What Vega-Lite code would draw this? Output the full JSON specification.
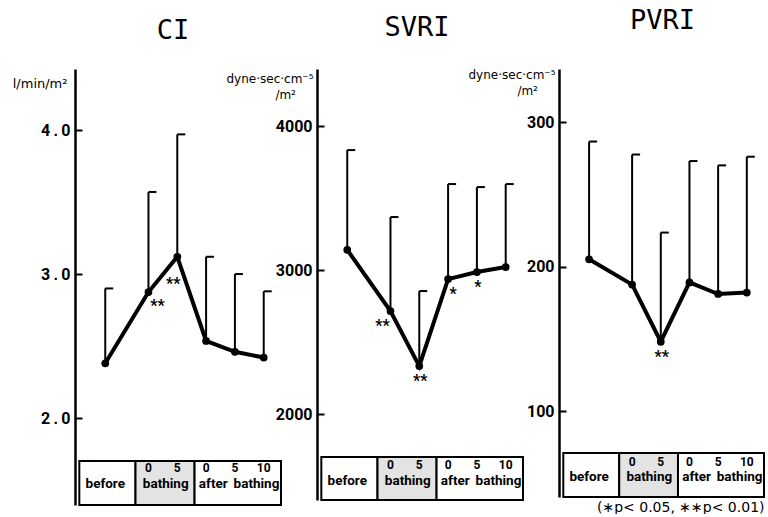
{
 "$schema": "https://vega.github.io/schema/vega-lite/v6.json",
 "background": "white",
 "padding": {"left": 12, "top": 7, "right": 0, "bottom": 0},
 "bounds": "flush",
 "spacing": 36,
 "config": {"view": {"stroke": null}, "axis": {"grid": false}},
 "datasets": {
  "cells": [{"cell": "before", "x0": -0.9, "x1": 1.05}, {"cell": "bathing", "x0": 1.05, "x1": 3.1}, {"cell": "after", "x0": 3.1, "x1": 6.1}],
  "tabnum": [{"x": 1.5, "t": "0"}, {"x": 2.5, "t": "5"}, {"x": 3.5, "t": "0"}, {"x": 4.5, "t": "5"}, {"x": 5.5, "t": "10"}],
  "tablab": [{"x": 0, "t": "before"}, {"x": 2.1, "t": "bathing"}, {"x": 3.75, "t": "after"}, {"x": 5.25, "t": "bathing"}],
  "ci": [
   {"step": "before", "x": 0, "mean": 2.38, "upper": 2.90, "sig": "", "place": ""},
   {"step": "bathing 0", "x": 1.5, "mean": 2.875, "upper": 3.57, "sig": "**", "place": "right"},
   {"step": "bathing 5", "x": 2.5, "mean": 3.12, "upper": 3.97, "sig": "**", "place": "low"},
   {"step": "after 0", "x": 3.5, "mean": 2.535, "upper": 3.12, "sig": "", "place": ""},
   {"step": "after 5", "x": 4.5, "mean": 2.46, "upper": 3.00, "sig": "", "place": ""},
   {"step": "after 10", "x": 5.5, "mean": 2.42, "upper": 2.88, "sig": "", "place": ""}
  ],
  "svri": [
   {"step": "before", "x": 0, "mean": 3140, "upper": 3833, "sig": "", "place": ""},
   {"step": "bathing 0", "x": 1.5, "mean": 2715, "upper": 3368, "sig": "**", "place": "left"},
   {"step": "bathing 5", "x": 2.5, "mean": 2333, "upper": 2854, "sig": "**", "place": "below"},
   {"step": "after 0", "x": 3.5, "mean": 2937, "upper": 3597, "sig": "*", "place": "right"},
   {"step": "after 5", "x": 4.5, "mean": 2986, "upper": 3576, "sig": "*", "place": "below"},
   {"step": "after 10", "x": 5.5, "mean": 3021, "upper": 3597, "sig": "", "place": ""}
  ],
  "pvri": [
   {"step": "before", "x": 0, "mean": 205, "upper": 286.5, "sig": "", "place": ""},
   {"step": "bathing 0", "x": 1.5, "mean": 187.5, "upper": 277.5, "sig": "", "place": ""},
   {"step": "bathing 5", "x": 2.5, "mean": 148, "upper": 223.5, "sig": "**", "place": "below"},
   {"step": "after 0", "x": 3.5, "mean": 189, "upper": 273, "sig": "", "place": ""},
   {"step": "after 5", "x": 4.5, "mean": 181, "upper": 270, "sig": "", "place": ""},
   {"step": "after 10", "x": 5.5, "mean": 182, "upper": 276, "sig": "", "place": ""}
  ]
 },
 "hconcat": [
  {
   "width": 206, "height": 436,
   "title": {"text": "CI", "font": "DejaVu Sans Mono", "fontSize": 27, "fontWeight": "normal", "color": "black", "frame": "group", "baseline": "alphabetic", "offset": 3, "dx": -5},
   "encoding": {"x": {"field": "x", "type": "quantitative", "scale": {"domain": [-1.05, 6.1], "nice": false, "zero": false}, "axis": null}},
   "layer": [
    {"data": {"name": "cells"}, "mark": {"type": "rect", "stroke": "black", "strokeWidth": 2},
     "encoding": {"x": {"field": "x0", "type": "quantitative"}, "x2": {"field": "x1"}, "y": {"datum": 1.701}, "y2": {"datum": 1.396},
      "fill": {"field": "cell", "type": "nominal", "scale": {"domain": ["before", "bathing", "after"], "range": ["#ffffff", "#e3e3e3", "#ffffff"]}, "legend": null}}},
    {"data": {"name": "tabnum"}, "mark": {"type": "text", "font": "Roboto", "fontWeight": "bold", "fontSize": 12, "baseline": "middle", "color": "black"},
     "encoding": {"x": {"field": "x", "type": "quantitative"}, "y": {"datum": 1.655}, "text": {"field": "t"}}},
    {"data": {"name": "tablab"}, "mark": {"type": "text", "font": "Roboto", "fontWeight": "bold", "fontSize": 13.5, "baseline": "middle", "color": "black"},
     "encoding": {"x": {"field": "x", "type": "quantitative"}, "y": {"datum": 1.542}, "text": {"field": "t"}}},
    {"data": {"name": "ci"}, "mark": {"type": "rule", "color": "black", "strokeWidth": 2},
     "encoding": {"y": {"field": "mean", "type": "quantitative", "scale": {"domain": [1.396, 4.424], "nice": false, "zero": false},
       "axis": {"values": [2, 3, 4], "format": ".1f", "labelExpr": "replace(datum.label, '.', '\u2009.\u2009')", "title": "l/min/m²", "zindex": 1, "grid": false,
        "domainColor": "black", "domainWidth": 2.5, "tickColor": "black", "tickWidth": 2, "tickSize": -7,
        "labelFont": "Roboto", "labelFontWeight": "bold", "labelFontSize": 16, "labelColor": "black", "labelPadding": 12,
        "titleAngle": 0, "titleAlign": "right", "titleBaseline": "alphabetic", "titleX": -8, "titleY": 18, "titleFont": "DejaVu Sans", "titleFontSize": 13, "titleFontWeight": "normal", "titleColor": "black"}},
      "y2": {"field": "upper"}}},
    {"data": {"name": "ci"}, "mark": {"type": "point", "shape": "M0,0H1", "size": 256, "filled": false, "stroke": "black", "strokeWidth": 2, "opacity": 1},
     "encoding": {"y": {"field": "upper", "type": "quantitative"}}},
    {"data": {"name": "ci"}, "mark": {"type": "line", "color": "black", "strokeWidth": 4},
     "encoding": {"y": {"field": "mean", "type": "quantitative"}}},
    {"data": {"name": "ci"}, "mark": {"type": "circle", "color": "black", "size": 60, "opacity": 1},
     "encoding": {"y": {"field": "mean", "type": "quantitative"}}},
    {"data": {"name": "ci"}, "transform": [{"filter": "datum.place === 'right'"}],
     "mark": {"type": "text", "font": "Roboto", "fontWeight": "bold", "fontSize": 16, "baseline": "alphabetic", "dx": 9, "dy": 19, "color": "black"},
     "encoding": {"y": {"field": "mean", "type": "quantitative"}, "text": {"field": "sig"}}},
    {"data": {"name": "ci"}, "transform": [{"filter": "datum.place === 'low'"}],
     "mark": {"type": "text", "font": "Roboto", "fontWeight": "bold", "fontSize": 16, "baseline": "alphabetic", "dx": -4, "dy": 32, "color": "black"},
     "encoding": {"y": {"field": "mean", "type": "quantitative"}, "text": {"field": "sig"}}}
   ]
  },
  {
   "width": 206, "height": 431,
   "title": {"text": "SVRI", "font": "DejaVu Sans Mono", "fontSize": 27, "fontWeight": "normal", "color": "black", "frame": "group", "baseline": "alphabetic", "offset": 6, "dx": -3},
   "encoding": {"x": {"field": "x", "type": "quantitative", "scale": {"domain": [-1.05, 6.1], "nice": false, "zero": false}, "axis": null}},
   "layer": [
    {"data": {"name": "cells"}, "mark": {"type": "rect", "stroke": "black", "strokeWidth": 2},
     "encoding": {"x": {"field": "x0", "type": "quantitative"}, "x2": {"field": "x1"}, "y": {"datum": 1701}, "y2": {"datum": 1403},
      "fill": {"field": "cell", "type": "nominal", "scale": {"domain": ["before", "bathing", "after"], "range": ["#ffffff", "#e3e3e3", "#ffffff"]}, "legend": null}}},
    {"data": {"name": "tabnum"}, "mark": {"type": "text", "font": "Roboto", "fontWeight": "bold", "fontSize": 12, "baseline": "middle", "color": "black"},
     "encoding": {"x": {"field": "x", "type": "quantitative"}, "y": {"datum": 1648}, "text": {"field": "t"}}},
    {"data": {"name": "tablab"}, "mark": {"type": "text", "font": "Roboto", "fontWeight": "bold", "fontSize": 13.5, "baseline": "middle", "color": "black"},
     "encoding": {"x": {"field": "x", "type": "quantitative"}, "y": {"datum": 1538}, "text": {"field": "t"}}},
    {"data": {"name": "svri"}, "mark": {"type": "rule", "color": "black", "strokeWidth": 2},
     "encoding": {"y": {"field": "mean", "type": "quantitative", "scale": {"domain": [1403, 4396], "nice": false, "zero": false},
       "axis": {"values": [2000, 3000, 4000], "format": "d", "title": ["dyne·sec·cm⁻⁵", "/m²\u2800\u2800"], "zindex": 1, "grid": false,
        "domainColor": "black", "domainWidth": 2.5, "tickColor": "black", "tickWidth": 2, "tickSize": -7,
        "labelFont": "Roboto", "labelFontWeight": "bold", "labelFontSize": 16, "labelColor": "black", "labelPadding": 12,
        "titleAngle": 0, "titleAlign": "right", "titleBaseline": "alphabetic", "titleX": -4, "titleY": 13, "titleLineHeight": 16, "titleFont": "DejaVu Sans", "titleFontSize": 12, "titleFontWeight": "normal", "titleColor": "black"}},
      "y2": {"field": "upper"}}},
    {"data": {"name": "svri"}, "mark": {"type": "point", "shape": "M0,0H1", "size": 256, "filled": false, "stroke": "black", "strokeWidth": 2, "opacity": 1},
     "encoding": {"y": {"field": "upper", "type": "quantitative"}}},
    {"data": {"name": "svri"}, "mark": {"type": "line", "color": "black", "strokeWidth": 4},
     "encoding": {"y": {"field": "mean", "type": "quantitative"}}},
    {"data": {"name": "svri"}, "mark": {"type": "circle", "color": "black", "size": 60, "opacity": 1},
     "encoding": {"y": {"field": "mean", "type": "quantitative"}}},
    {"data": {"name": "svri"}, "transform": [{"filter": "datum.place === 'right'"}],
     "mark": {"type": "text", "font": "Roboto", "fontWeight": "bold", "fontSize": 16, "baseline": "alphabetic", "dx": 5, "dy": 20, "color": "black"},
     "encoding": {"y": {"field": "mean", "type": "quantitative"}, "text": {"field": "sig"}}},
    {"data": {"name": "svri"}, "transform": [{"filter": "datum.place === 'left'"}],
     "mark": {"type": "text", "font": "Roboto", "fontWeight": "bold", "fontSize": 16, "baseline": "alphabetic", "dx": -8, "dy": 20, "color": "black"},
     "encoding": {"y": {"field": "mean", "type": "quantitative"}, "text": {"field": "sig"}}},
    {"data": {"name": "svri"}, "transform": [{"filter": "datum.place === 'below'"}],
     "mark": {"type": "text", "font": "Roboto", "fontWeight": "bold", "fontSize": 16, "baseline": "alphabetic", "dx": 1, "dy": 20, "color": "black"},
     "encoding": {"y": {"field": "mean", "type": "quantitative"}, "text": {"field": "sig"}}}
   ]
  },
  {
   "width": 205, "height": 428,
   "title": {"text": "PVRI", "font": "DejaVu Sans Mono", "fontSize": 27, "fontWeight": "normal", "color": "black", "frame": "group", "baseline": "alphabetic", "offset": 12, "dx": 1},
   "encoding": {"x": {"field": "x", "type": "quantitative", "scale": {"domain": [-1.05, 6.1], "nice": false, "zero": false},
     "axis": {"title": "(∗p< 0.05,  ∗∗p< 0.01)", "domain": false, "ticks": false, "labels": false, "grid": false,
      "titleAlign": "right", "titleBaseline": "top", "titleX": 205, "titleY": 3, "titleFont": "DejaVu Sans", "titleFontSize": 14, "titleFontWeight": "normal", "titleColor": "black"}}},
   "layer": [
    {"data": {"name": "cells"}, "mark": {"type": "rect", "stroke": "black", "strokeWidth": 2},
     "encoding": {"x": {"field": "x0", "type": "quantitative"}, "x2": {"field": "x1"}, "y": {"datum": 70.9}, "y2": {"datum": 40.5},
      "fill": {"field": "cell", "type": "nominal", "scale": {"domain": ["before", "bathing", "after"], "range": ["#ffffff", "#e3e3e3", "#ffffff"]}, "legend": null}}},
    {"data": {"name": "tabnum"}, "mark": {"type": "text", "font": "Roboto", "fontWeight": "bold", "fontSize": 12, "baseline": "middle", "color": "black"},
     "encoding": {"x": {"field": "x", "type": "quantitative"}, "y": {"datum": 65.0}, "text": {"field": "t"}}},
    {"data": {"name": "tablab"}, "mark": {"type": "text", "font": "Roboto", "fontWeight": "bold", "fontSize": 13.5, "baseline": "middle", "color": "black"},
     "encoding": {"x": {"field": "x", "type": "quantitative"}, "y": {"datum": 54.0}, "text": {"field": "t"}}},
    {"data": {"name": "pvri"}, "mark": {"type": "rule", "color": "black", "strokeWidth": 2},
     "encoding": {"y": {"field": "mean", "type": "quantitative", "scale": {"domain": [40.5, 336.7], "nice": false, "zero": false},
       "axis": {"values": [100, 200, 300], "format": "d", "title": ["dyne·sec·cm⁻⁵", "/m²\u2800\u2800"], "zindex": 1, "grid": false,
        "domainColor": "black", "domainWidth": 2.5, "tickColor": "black", "tickWidth": 2, "tickSize": -7,
        "labelFont": "Roboto", "labelFontWeight": "bold", "labelFontSize": 16, "labelColor": "black", "labelPadding": 12,
        "titleAngle": 0, "titleAlign": "right", "titleBaseline": "alphabetic", "titleX": -4, "titleY": 9, "titleLineHeight": 16, "titleFont": "DejaVu Sans", "titleFontSize": 12, "titleFontWeight": "normal", "titleColor": "black"}},
      "y2": {"field": "upper"}}},
    {"data": {"name": "pvri"}, "mark": {"type": "point", "shape": "M0,0H1", "size": 256, "filled": false, "stroke": "black", "strokeWidth": 2, "opacity": 1},
     "encoding": {"y": {"field": "upper", "type": "quantitative"}}},
    {"data": {"name": "pvri"}, "mark": {"type": "line", "color": "black", "strokeWidth": 4},
     "encoding": {"y": {"field": "mean", "type": "quantitative"}}},
    {"data": {"name": "pvri"}, "mark": {"type": "circle", "color": "black", "size": 60, "opacity": 1},
     "encoding": {"y": {"field": "mean", "type": "quantitative"}}},
    {"data": {"name": "pvri"}, "transform": [{"filter": "datum.place === 'below'"}],
     "mark": {"type": "text", "font": "Roboto", "fontWeight": "bold", "fontSize": 16, "baseline": "alphabetic", "dx": 1, "dy": 20, "color": "black"},
     "encoding": {"y": {"field": "mean", "type": "quantitative"}, "text": {"field": "sig"}}}
   ]
  }
 ]
}
